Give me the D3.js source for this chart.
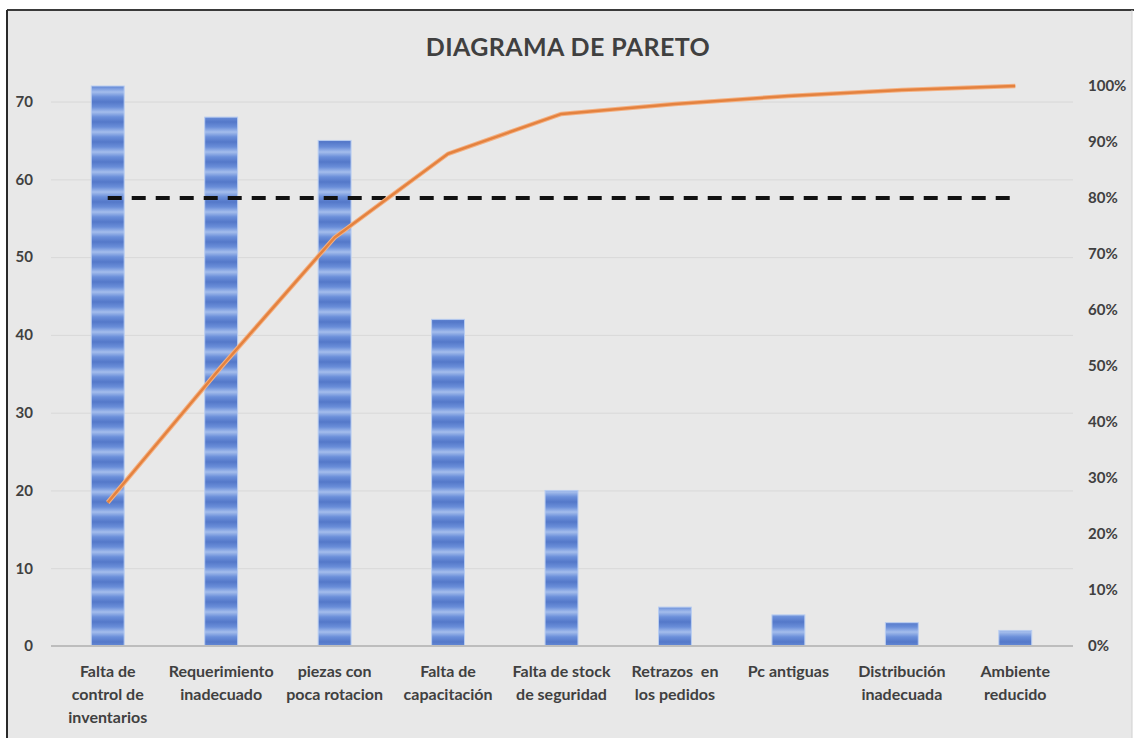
<!DOCTYPE html>
<html>
<head>
<meta charset="utf-8">
<script src="https://cdn.jsdelivr.net/npm/d3@7"></script>
<style>
  body { margin: 0; background: #fff; }
  svg text { font-family: Lato, "Open Sans", sans-serif; font-weight: 700; fill: #404040; white-space: pre; }
</style>
</head>
<body>
<div id="pareto"></div>
<script>
// chart data
const categories = [
    "Falta de control de inventarios",
    "Requerimiento inadecuado",
    "piezas con poca rotacion",
    "Falta de capacitación",
    "Falta de stock de seguridad",
    "Retrazos  en los pedidos",
    "Pc antiguas",
    "Distribución inadecuada",
    "Ambiente reducido"
]
const labelLines = [
    ["Falta de", "control de", "inventarios"],
    ["Requerimiento", "inadecuado"],
    ["piezas con", "poca rotacion"],
    ["Falta de", "capacitación"],
    ["Falta de stock", "de seguridad"],
    ["Retrazos  en", "los pedidos"],
    ["Pc antiguas"],
    ["Distribución", "inadecuada"],
    ["Ambiente", "reducido"]
]
const counts = [72, 68, 65, 42, 20, 5, 4, 3, 2]
const leftTicks = [0, 10, 20, 30, 40, 50, 60, 70]
const rightTicks = [0, 0.1, 0.2, 0.3, 0.4, 0.5, 0.6, 0.7, 0.8, 0.9, 1]
const threshold = 0.8
const title = "DIAGRAMA DE PARETO"

const render = () => {
    const width = 1134
    const height = 738
    const plot = { left: 51, right: 1072, top: 86, bottom: 646 }

    const total = d3.sum(counts)
    const cumulative = d3.cumsum(counts).map(v => v / total)
    const dataset = categories.map((c, i) => ({ cat: c, count: counts[i], cum: cumulative[i], lines: labelLines[i] }))

    const svg = d3.select("#pareto")
        .append("svg")
        .attr("width", width)
        .attr("height", height)

    // stripe pattern for bars
    const defs = svg.append("defs")
    const grad = defs.append("linearGradient")
        .attr("id", "stripeGrad")
        .attr("x1", 0).attr("y1", 0).attr("x2", 0).attr("y2", 1)
    grad.append("stop").attr("offset", "0%").attr("stop-color", "#5478c9")
    grad.append("stop").attr("offset", "25%").attr("stop-color", "#6a8ed9")
    grad.append("stop").attr("offset", "50%").attr("stop-color", "#a4bdec")
    grad.append("stop").attr("offset", "75%").attr("stop-color", "#6a8ed9")
    grad.append("stop").attr("offset", "100%").attr("stop-color", "#5478c9")
    const pattern = defs.append("pattern")
        .attr("id", "stripes")
        .attr("patternUnits", "userSpaceOnUse")
        .attr("x", 0).attr("y", 2)
        .attr("width", 40).attr("height", 20)
    pattern.append("rect")
        .attr("width", 40).attr("height", 20)
        .attr("fill", "url(#stripeGrad)")

    // chart frame
    svg.append("rect")
        .attr("x", 7).attr("y", 10)
        .attr("width", 1125).attr("height", 740)
        .attr("fill", "#e8e8e8")
    svg.append("line")
        .attr("x1", 7).attr("x2", 1134).attr("y1", 10).attr("y2", 10)
        .attr("stroke", "#3a3a3a").attr("stroke-width", 2)
    svg.append("line")
        .attr("x1", 7).attr("x2", 7).attr("y1", 10).attr("y2", 738)
        .attr("stroke", "#2a2a2a").attr("stroke-width", 2)
    svg.append("line")
        .attr("x1", 1132).attr("x2", 1132).attr("y1", 10).attr("y2", 738)
        .attr("stroke", "#d0d0d0").attr("stroke-width", 1)

    const xScale = d3.scaleBand()
        .domain(categories)
        .range([plot.left, plot.right])
        .paddingInner(0.71)
        .paddingOuter(0.355)

    const yLeft = d3.scaleLinear()
        .domain([0, 72])
        .range([plot.bottom, plot.top])

    const yRight = d3.scaleLinear()
        .domain([0, 1])
        .range([plot.bottom, plot.top])

    const center = d => xScale(d) + xScale.bandwidth() / 2

    // gridlines
    svg.append("g")
        .attr("transform", `translate(${plot.left},0)`)
        .call(d3.axisLeft(yLeft).tickValues(leftTicks).tickSize(-(plot.right - plot.left + 1)).tickFormat(""))
        .call(g => g.select(".domain").remove())
        .call(g => g.selectAll(".tick line").attr("stroke", "#d8d8d8"))

    // left axis
    svg.append("g")
        .attr("transform", `translate(${plot.left},0)`)
        .call(d3.axisLeft(yLeft).tickValues(leftTicks).tickSize(0).tickPadding(18))
        .call(g => g.select(".domain").remove())
        .call(g => g.selectAll("text").style("font-size", "15px").style("font-family", "Lato, sans-serif").attr("fill", "#404040"))

    // right axis
    svg.append("g")
        .attr("transform", `translate(${plot.right},0)`)
        .call(d3.axisRight(yRight).tickValues(rightTicks).tickSize(0).tickPadding(16).tickFormat(d3.format(".0%")))
        .call(g => g.select(".domain").remove())
        .call(g => g.selectAll("text").style("font-size", "15px").style("font-family", "Lato, sans-serif").attr("fill", "#404040"))

    // bars
    svg.append("g")
        .selectAll("rect")
        .data(dataset)
        .join("rect")
        .attr("x", d => xScale(d.cat))
        .attr("y", d => yLeft(d.count))
        .attr("width", xScale.bandwidth())
        .attr("height", d => yLeft(0) - yLeft(d.count))
        .attr("fill", "url(#stripes)")
        .attr("stroke", "#b9cdf0")
        .attr("stroke-width", 1)

    // baseline
    svg.append("line")
        .attr("x1", plot.left).attr("x2", plot.right + 1)
        .attr("y1", yLeft(0)).attr("y2", yLeft(0))
        .attr("stroke", "#bdbdbd").attr("stroke-width", 2)

    // 80% reference line
    svg.append("line")
        .attr("x1", center(categories[0]))
        .attr("x2", center(categories[categories.length - 1]))
        .attr("y1", yRight(threshold)).attr("y2", yRight(threshold))
        .attr("stroke", "#111").attr("stroke-width", 4)
        .attr("stroke-dasharray", "14,10")

    // cumulative line
    const line = d3.line()
        .x(d => center(d.cat))
        .y(d => yRight(d.cum))
    svg.append("path")
        .datum(dataset)
        .attr("d", line)
        .attr("fill", "none")
        .attr("stroke", "#f4b183")
        .attr("stroke-width", 4.5)
        .attr("stroke-linejoin", "round")
    svg.append("path")
        .datum(dataset)
        .attr("d", line)
        .attr("fill", "none")
        .attr("stroke", "#e4823f")
        .attr("stroke-width", 2.5)
        .attr("stroke-linejoin", "round")

    // category labels
    const xAxis = svg.append("g")
        .attr("transform", `translate(0,${plot.bottom})`)
        .call(d3.axisBottom(xScale).tickSize(0).tickFormat(""))
    xAxis.select(".domain").remove()
    xAxis.selectAll(".tick")
        .data(dataset)
        .select("text")
        .attr("y", 0)
        .attr("dy", 0)
        .style("font-size", "16px")
        .style("font-family", "Lato, sans-serif")
        .attr("fill", "#333")
        .each(function(d) {
            const t = d3.select(this)
            d.lines.forEach((ln, i) => {
                t.append("tspan")
                    .attr("x", 0)
                    .attr("y", 31 + i * 23)
                    .text(ln)
            })
        })

    // title
    svg.append("text")
        .attr("x", 568)
        .attr("y", 56)
        .attr("text-anchor", "middle")
        .style("font-size", "25px")
        .style("letter-spacing", "0.4px")
        .attr("fill", "#404040")
        .text(title)
}

render()
</script>
</body>
</html>
